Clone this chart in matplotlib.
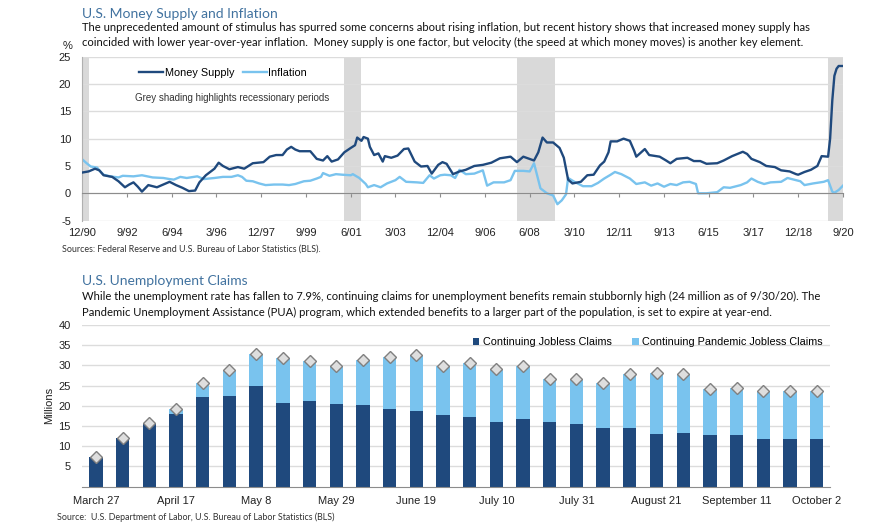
import matplotlib
matplotlib.use("Agg")
import matplotlib.pyplot as plt
import numpy as np
import pandas as pd

# ---------------- data: money supply & inflation (% YoY) ----------------
ms_dates = ["1990-12","1991-03","1991-06","1991-08","1991-10","1992-02","1992-05","1992-08","1992-10","1992-12",
            "1993-02","1993-04","1993-07","1993-11","1994-02","1994-05","1994-08","1994-11","1995-02","1995-05",
            "1995-07","1995-10","1996-02","1996-04","1996-06","1996-09","1997-01","1997-04","1997-08","1998-01",
            "1998-04","1998-07","1998-10","1998-12","1999-02","1999-04","1999-06","1999-11","2000-02","2000-05",
            "2000-07","2000-09","2000-12","2001-03","2001-06","2001-08","2001-09","2001-11","2001-12","2002-02",
            "2002-03","2002-05","2002-07","2002-09","2002-10","2003-01","2003-04","2003-07","2003-09","2003-12",
            "2004-03","2004-06","2004-08","2004-11","2005-01","2005-03","2005-06","2005-09","2005-12","2006-04",
            "2006-08","2006-12","2007-04","2007-09","2007-12","2008-03","2008-08","2008-10","2008-12","2009-02",
            "2009-05","2009-08","2009-10","2009-12","2010-02","2010-06","2010-09","2010-12","2011-03","2011-05",
            "2011-07","2011-08","2011-11","2012-02","2012-05","2012-07","2012-08","2012-12","2013-02","2013-07",
            "2013-10","2013-12","2014-03","2014-08","2014-11","2015-02","2015-05","2015-10","2016-01","2016-05",
            "2016-10","2016-12","2017-02","2017-06","2017-09","2018-01","2018-04","2018-08","2018-11","2018-12",
            "2019-03","2019-06","2019-09","2019-11","2020-02","2020-03","2020-04","2020-05","2020-06","2020-07",
            "2020-09"]
money_supply = [3.8,4.0,4.5,4.2,3.3,3.0,2.2,1.1,1.6,2.0,
                1.2,0.3,1.5,1.1,1.6,2.1,1.5,1.0,0.4,0.5,
                2.0,3.3,4.5,5.6,5.0,4.4,4.8,4.5,5.5,5.7,
                6.7,7.0,7.0,8.0,8.5,8.0,7.7,7.7,6.3,6.0,
                6.8,5.8,6.2,7.5,8.3,8.8,10.2,9.6,10.3,10.0,
                8.5,7.0,7.3,5.8,6.8,6.5,6.9,8.1,8.2,5.8,
                4.9,5.0,3.6,5.2,5.7,5.4,3.5,4.0,4.3,5.0,
                5.2,5.6,6.4,6.7,5.7,6.7,6.0,7.5,10.2,9.3,
                9.3,8.3,6.5,2.5,1.8,2.1,3.3,3.4,5.1,5.8,
                7.5,9.5,9.5,10.0,9.6,7.8,6.7,8.1,7.0,6.7,
                6.0,5.5,6.3,6.5,5.9,5.9,5.4,5.5,6.0,6.8,
                7.6,7.2,6.3,5.7,5.0,4.8,4.2,4.0,3.5,3.4,
                3.9,4.3,5.0,6.8,6.7,10.0,17.0,21.5,22.8,23.3,
                23.3]

inf_dates = ["1990-12","1991-02","1991-04","1991-07","1991-08","1991-10","1992-01","1992-05","1992-07","1992-12",
             "1993-04","1993-09","1994-02","1994-05","1994-07","1994-10","1995-01","1995-06","1995-09","1996-02",
             "1996-06","1996-10","1997-01","1997-03","1997-05","1997-08","1997-11","1998-02","1998-06","1998-10",
             "1999-01","1999-04","1999-08","1999-11","2000-02","2000-04","2000-05","2000-08","2000-11","2001-02",
             "2001-06","2001-07","2001-10","2002-01","2002-02","2002-05","2002-08","2002-11","2003-03","2003-05",
             "2003-08","2004-01","2004-04","2004-07","2004-09","2004-12","2005-02","2005-05","2005-07","2005-09",
             "2005-12","2006-04","2006-08","2006-10","2007-01","2007-06","2007-09","2007-11","2008-03","2008-06",
             "2008-08","2008-11","2009-02","2009-05","2009-07","2009-09","2009-11","2009-12","2010-03","2010-07",
             "2010-11","2011-02","2011-05","2011-08","2011-10","2012-01","2012-05","2012-08","2012-12","2013-03",
             "2013-06","2013-09","2013-12","2014-03","2014-06","2014-09","2014-12","2015-01","2015-05","2015-10",
             "2016-01","2016-04","2016-09","2016-12","2017-02","2017-05","2017-08","2017-11","2018-04","2018-07",
             "2018-10","2019-01","2019-03","2019-07","2019-12","2020-02","2020-04","2020-05","2020-07","2020-09"]
inflation = [6.2,5.5,4.9,4.7,4.2,3.4,3.1,2.9,3.2,3.1,
             3.3,2.9,2.8,2.6,2.5,3.0,2.8,3.1,2.6,2.8,
             3.0,3.0,3.3,3.0,2.3,2.2,1.8,1.5,1.6,1.6,
             1.5,1.7,2.2,2.3,2.7,3.0,3.7,3.2,3.5,3.4,
             3.3,3.5,2.8,1.7,1.1,1.5,1.1,1.8,2.4,3.0,
             2.1,2.0,1.9,3.3,2.7,3.3,3.4,3.3,2.8,4.3,
             3.5,3.6,4.2,1.4,2.0,2.0,2.4,4.1,4.1,4.0,
             5.5,0.9,0.0,-0.4,-2.0,-1.3,-0.2,2.8,2.1,1.3,
             1.3,1.9,2.7,3.4,3.9,3.5,2.7,1.7,2.0,1.4,
             1.8,1.2,1.7,1.5,2.0,2.1,1.7,0.0,0.0,0.2,
             1.1,1.0,1.5,2.0,2.7,2.1,1.7,2.0,2.1,2.8,
             2.5,2.2,1.5,1.8,2.1,2.4,0.3,0.1,0.6,1.4]

recession_start = ["1990-07", "2001-03", "2007-12", "2020-02"]
recession_end = ["1991-03", "2001-11", "2009-06", "2020-09"]

top_tick_labels = ["12/90","9/92","6/94","3/96","12/97","9/99","6/01","3/03","12/04",
                   "9/06","6/08","3/10","12/11","9/13","6/15","3/17","12/18","9/20"]

# ---------------- data: unemployment claims (millions) ----------------
weeks = ["March 27","April 3","April 10","April 17","April 24","May 1","May 8","May 15","May 22","May 29",
         "June 5","June 12","June 19","June 26","July 3","July 10","July 17","July 24","July 31","August 7",
         "August 14","August 21","August 28","September 4","September 11","September 18","September 25","October 2"]
jobless = [7.4,12.0,15.8,17.9,22.3,22.4,25.0,20.8,21.3,20.5,
           20.3,19.2,18.8,17.7,17.2,16.1,16.8,15.9,15.4,14.6,
           14.4,13.1,13.4,12.7,12.7,11.7,11.7,11.7]
total_claims = [7.4,12.0,15.8,19.1,25.7,28.9,32.9,31.9,31.0,29.9,
                31.3,32.2,32.7,29.9,30.5,29.0,29.9,26.7,26.6,25.6,
                28.0,28.2,28.0,24.2,24.5,23.7,23.7,23.7]
pandemic = [t - j for t, j in zip(total_claims, jobless)]

# ---------------- styling ----------------
DARK = "#1f497d"
LIGHT = "#79c3ee"
TITLE_C = "#41729f"
GRID_C = "#dcdcdc"
AX_C = "#8c8c8c"
TXT_FONT = ["Lato", "DejaVu Sans"]
CH_FONT = ["Liberation Sans", "DejaVu Sans"]

plt.rcParams["font.family"] = CH_FONT
plt.rcParams["axes.unicode_minus"] = False

W, H = 882, 529
fig = plt.figure(figsize=(W / 100, H / 100), dpi=100)
fig.patch.set_facecolor("white")

def fx(px):
    return px / W

def fy(py):
    return 1 - py / H

# ---------------- top chart ----------------
ax1 = fig.add_axes([fx(82.3), fy(220.6), fx(843) - fx(82.3), fy(56.7) - fy(220.6)])
ms_x = pd.to_datetime(ms_dates)
inf_x = pd.to_datetime(inf_dates)
x0 = pd.Timestamp("1990-12-01")
x1 = pd.Timestamp("2020-09-01")
for s, e in zip(recession_start, recession_end):
    ax1.axvspan(max(pd.Timestamp(s), x0), min(pd.Timestamp(e), x1), color="#d9d9d9", lw=0, zorder=0)
ax1.plot(ms_x, money_supply, color=DARK, lw=1.7, label="Money Supply", zorder=3)
ax1.plot(inf_x, inflation, color=LIGHT, lw=1.7, label="Inflation", zorder=2)
ax1.set_xlim(x0, x1)
ax1.set_ylim(-5, 25)
ax1.set_yticks([-5, 0, 5, 10, 15, 20, 25])
ax1.yaxis.grid(True, color=GRID_C, lw=1)
ax1.set_axisbelow(True)
tick_pos = pd.date_range(x0, periods=len(top_tick_labels), freq="21MS")
ax1.set_xticks(tick_pos)
ax1.set_xticklabels(top_tick_labels)
for sp in ["top", "right"]:
    ax1.spines[sp].set_visible(False)
ax1.spines["bottom"].set_position(("data", 0))
ax1.spines["bottom"].set_color(AX_C)
ax1.spines["left"].set_color("#b0b0b0")
ax1.tick_params(axis="x", direction="out", length=3, color=AX_C, pad=22, labelsize=8, labelcolor="#222222")
ax1.tick_params(axis="y", length=0, pad=8, labelsize=8, labelcolor="#222222")
ax1.legend(loc="upper left", bbox_to_anchor=(0.062, 0.99), ncol=2, frameon=False,
           fontsize=7.8, handlelength=2.2, columnspacing=0.8, handletextpad=0.15)
ax1.text(0.069, 0.745, "Grey shading highlights recessionary periods", transform=ax1.transAxes,
         fontsize=7, color="#333333", va="center")

fig.text(fx(68), fy(46), "%", fontsize=8, ha="center", va="center", color="#222222")
fig.text(fx(82), fy(18.3), "U.S. Money Supply and Inflation", family=TXT_FONT, fontsize=10,
         color=TITLE_C, va="baseline")
fig.text(fx(82), fy(30.7), "The unprecedented amount of stimulus has spurred some concerns about rising inflation, "
         "but recent history shows that increased money supply has", family=TXT_FONT, fontsize=8.1,
         color="#111111", va="baseline")
fig.text(fx(82), fy(45.7), "coincided with lower year-over-year inflation.  Money supply is one factor, but velocity "
         "(the speed at which money moves) is another key element.", family=TXT_FONT, fontsize=8.1,
         color="#111111", va="baseline")
fig.text(fx(62), fy(252), "Sources: Federal Reserve and U.S. Bureau of Labor Statistics (BLS).",
         family=TXT_FONT, fontsize=6.4, color="#333333", va="baseline")

# ---------------- bottom chart ----------------
ax2 = fig.add_axes([fx(82), fy(486.7), fx(830) - fx(82), fy(325) - fy(486.7)])
xi = np.arange(len(weeks))
ax2.bar(xi, jobless, width=0.5, color=DARK, label="Continuing Jobless Claims", zorder=2)
ax2.bar(xi, pandemic, width=0.5, bottom=jobless, color=LIGHT, label="Continuing Pandemic Jobless Claims", zorder=2)
ax2.plot(xi, total_claims, ls="none", marker="D", ms=6.5, mfc="#dedede", mec="#808080", mew=1.0, zorder=3)
ax2.set_xlim(-0.525, 27.5)
ax2.set_ylim(0, 40)
ax2.set_yticks([5, 10, 15, 20, 25, 30, 35, 40])
ax2.yaxis.grid(True, color=GRID_C, lw=1)
ax2.set_axisbelow(True)
ax2.set_xticks(xi[::3])
ax2.set_xticklabels(weeks[::3])
for sp in ["top", "right", "left"]:
    ax2.spines[sp].set_visible(False)
ax2.spines["bottom"].set_color(AX_C)
ax2.tick_params(axis="x", length=0, pad=7, labelsize=8, labelcolor="#222222")
ax2.tick_params(axis="y", length=0, pad=8, labelsize=8, labelcolor="#222222")
ax2.set_ylabel("Millions", fontsize=8, color="#222222", labelpad=3)
ax2.legend(loc="upper right", bbox_to_anchor=(1.003, 0.985), ncol=2, frameon=False, fontsize=7.8,
           handlelength=0.6, handleheight=0.6, handletextpad=0.3, columnspacing=1.9)

fig.text(fx(82), fy(285), "U.S. Unemployment Claims", family=TXT_FONT, fontsize=10,
         color=TITLE_C, va="baseline")
fig.text(fx(82), fy(300), "While the unemployment rate has fallen to 7.9%, continuing claims for unemployment "
         "benefits remain stubbornly high (24 million as of 9/30/20). The", family=TXT_FONT, fontsize=8.1,
         color="#111111", va="baseline")
fig.text(fx(82), fy(316), "Pandemic Unemployment Assistance (PUA) program, which extended benefits to a larger "
         "part of the population, is set to expire at year-end.", family=TXT_FONT, fontsize=8.1,
         color="#111111", va="baseline")
fig.text(fx(57), fy(520), "Source:  U.S. Department of Labor, U.S. Bureau of Labor Statistics (BLS)",
         family=TXT_FONT, fontsize=6.4, color="#333333", va="baseline")

fig.savefig("out.png", dpi=100)
